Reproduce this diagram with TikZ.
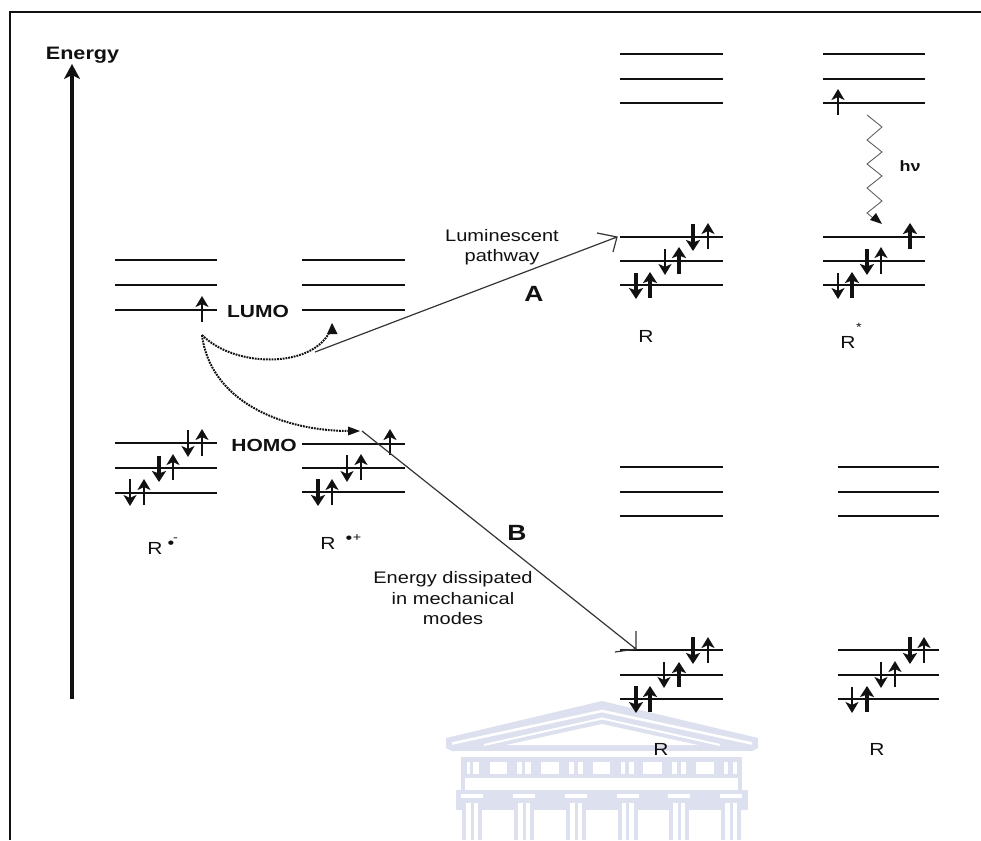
\documentclass[tikz,border=0pt]{standalone}
\usepackage{fontspec}
\setmainfont{Liberation Sans}[FakeStretch=1.2]
\usetikzlibrary{arrows.meta}
\definecolor{ink}{HTML}{111111}
\definecolor{wm}{HTML}{DDE0EE}
\tikzset{
  level/.style={draw=ink,line width=2pt},
  spin/.style={draw=ink,line width=2.6pt,-{Stealth[length=11pt,width=13pt,inset=3pt]}},
  spinb/.style={draw=ink,line width=3.6pt,-{Stealth[length=11pt,width=14pt,inset=2.5pt]}},
  txt/.style={text=ink,inner sep=0pt,font=\fontsize{16.7}{20.5}\selectfont,align=center},
  big/.style={text=ink,inner sep=0pt,font=\fontsize{17.5}{20}\selectfont\bfseries},
  letter/.style={text=ink,inner sep=0pt,font=\fontsize{22}{24}\selectfont\bfseries},
  rlab/.style={text=ink,inner sep=0pt,font=\fontsize{17.5}{20}\selectfont},
  small/.style={text=ink,inner sep=0pt,font=\fontsize{12}{14}\selectfont},
  path/.style={draw=ink!85,line width=1.2pt},
  dotcurve/.style={draw=ink,line width=2pt,dash pattern=on 1.8pt off 1pt},
  wmfill/.style={fill=wm,draw=none},
  wmwhite/.style={fill=white,draw=none}
}
\begin{document}
\begin{tikzpicture}[x=1pt,y=-1pt]
\useasboundingbox (0,0) rectangle (981,840);
\fill[white] (0,0) rectangle (981,840);
% watermark
\fill[wmfill] (446,738) -- (602,701) -- (758,738) -- (758,748) -- (752,751) -- (452,751) -- (446,748) -- cycle;
\draw[white,line width=2.6pt] (452,743.5) -- (602,711) -- (752,743.5);
\fill[wmwhite] (506,745) -- (602,724) -- (698,745) -- cycle;
\draw[white,line width=2pt] (484,745) -- (602,718.5) -- (720,745);
\fill[wmwhite] (457,751) rectangle (750,757);
\fill[wmfill] (461,757) rectangle (742,792);
\foreach \a/\b in {490/507,541/559,593/610,643/662,696/714,467/470,473/479,517/522,525/531,569/574,578/583,621/625,629/634,672/677,681/686,724/728,733/737}
  \fill[wmwhite] (\a,762) rectangle (\b,774);
\fill[wmwhite] (465,778) rectangle (738,790);
\fill[wmfill] (456,790) rectangle (748,810);
\foreach \c in {472,524,576,627.5,679,731}{
  \fill[wmfill] (\c-10,803) rectangle (\c+10,840);
  \fill[wmwhite] (\c-11,794) rectangle (\c+11,798);
  \fill[wmwhite] (\c-6,803) rectangle (\c-1.5,840);
  \fill[wmwhite] (\c+1.5,803) rectangle (\c+6,840);
}
% frame
\draw[ink,line width=2pt] (10,840) -- (10,12) -- (981,12);
% Energy axis
\node[big,font=\fontsize{18}{20}\selectfont\bfseries] (energy) at (82.5,55) {Energy};
\coordinate (axisfoot) at (72,699);
\coordinate (axistip) at (72,64);
\draw[ink,line width=4pt,-{Stealth[length=15pt,width=16pt,inset=4pt]}] (axisfoot) -- (axistip);
% levels
\foreach \a/\b/\ys in {115/217/{260,285,310,443,468,493},302/405/{260,285,310,444,468,492},620/723/{54,79,103,237,261,285},823/925/{54,79,103,237,261,285},620/723/{467,492,516,650,675,699},838/939/{467,492,516,650,675,699}}
  \foreach \y in \ys \draw[level] (\a,\y) -- (\b,\y);
% spins : x / from / to
\foreach \x/\p/\q in {202/322/296, 202/456/429, 173/480/454, 144/505/479, 188/430/457, 130/479/506,
  390/455/429, 361/480/454, 332/505/479, 347/455/482,
  708/249/223, 665/249/275, 838/115/89, 881/274/247, 838/273/299,
  708/663/637, 664/662/688, 895/687/661, 924/663/637, 881/662/688, 852/687/713}
  \draw[spin] (\x,\p) -- (\x,\q);
\foreach \x/\p/\q in {159/456/482, 318/479/506,
  693/224/251, 679/274/247, 636/273/299, 650/298/272, 910/249/223, 867/249/275, 852/298/272,
  693/637/664, 679/687/662, 636/686/713, 650/712/686, 910/637/664, 867/712/686}
  \draw[spinb] (\x,\p) -- (\x,\q);
% labels
\node[big] (lumo) at (258,311) {LUMO};
\node[big] (homo) at (264,445) {HOMO};
\node[txt] (lum) at (502,247) {Luminescent\\pathway};
\node[txt] (dis) at (453,598.5) {Energy dissipated\\in mechanical\\modes};
\node[letter] (la) at (534,294) {A};
\node[letter] (lb) at (517,533) {B};
\node[rlab] (r1) at (155,548) {R};
\node[small,font=\fontsize{16}{16}\selectfont] (r1d) at (171,545) {•};
\node[small] (r1m) at (175.5,540) {-};
\node[rlab] (r2) at (328,543) {R};
\node[small,font=\fontsize{16}{16}\selectfont] (r2d) at (349,539.5) {•};
\node[small] (r2p) at (357,538) {+};
\node[rlab] (r3) at (646,336) {R};
\node[rlab] (r4) at (848,342) {R};
\node[small] (r4s) at (859,327.5) {*};
\node[rlab] (r5) at (661,749) {R};
\node[rlab] (r6) at (877,749) {R};
\node[text=ink,inner sep=0pt,font=\fontsize{15}{16}\selectfont\bfseries] (hv) at (910,166) {hν};
% pathway A
\coordinate (as) at (315,352);
\coordinate (ae) at (617,237);
\coordinate (ab1) at (597,233);
\coordinate (ab2) at (613,252);
\draw[path] (as) -- (ae) (ab1) -- (ae) -- (ab2);
% pathway B
\coordinate (bs) at (362,431);
\coordinate (be) at (636,649);
\coordinate (bb1) at (636,631);
\coordinate (bb2) at (615,652);
\draw[path] (bs) -- (be) (bb1) -- (be) -- (bb2);
% dotted curves
\coordinate (dot) at (202,335);
\coordinate (t1) at (332,323);
\coordinate (t2) at (360,431);
\draw[dotcurve] (dot) .. controls (235,368) and (310,368) .. (329,333);
\draw[dotcurve] (dot) .. controls (210,400) and (280,431) .. (350,431);
\fill[ink] (327,334) -- (332,323) -- (337.5,334) -- cycle;
\fill[ink] (348,426.5) -- (360,431) -- (348,435.5) -- cycle;
% photon
\coordinate (ps) at (867,115);
\coordinate (pe) at (882,224);
\draw[draw=ink!65,line width=.9pt] (ps) -- (882,127) -- (867,140) -- (882,152) -- (867,164) -- (882,176) -- (867,188) -- (882,201) -- (867,213) -- (873,218);
\fill[ink] (870,220) -- (882,224) -- (876,213) -- cycle;
\end{tikzpicture}
\end{document}
